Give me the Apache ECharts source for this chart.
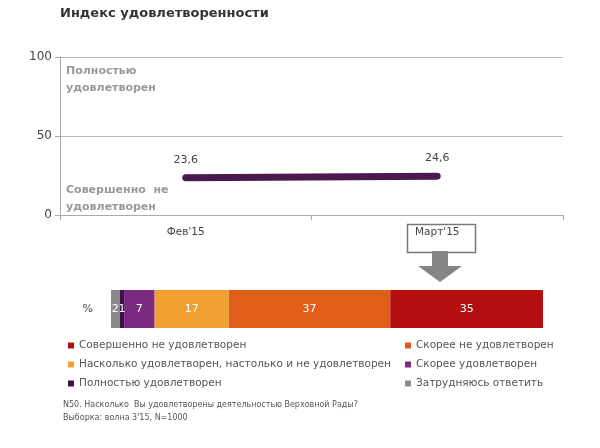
<!DOCTYPE html>
<html><head><meta charset="utf-8">
<script src="https://cdn.jsdelivr.net/npm/echarts@6/dist/echarts.min.js"></script>
<style>html,body{margin:0;padding:0;background:#fff}#c{width:600px;height:448px}</style>
</head><body><div id="c"></div>
<script>
var months = ["Фев'15", "Март'15"];
var indexValues = [23.6, 24.6];
var yTicks = [0, 50, 100];

var parts = ['Затрудняюсь ответить', 'Полностью удовлетворен', 'Скорее удовлетворен',
    'Насколько удовлетворен, настолько и не удовлетворен', 'Скорее не удовлетворен', 'Совершенно не удовлетворен'];
var partValues = [2, 1, 7, 17, 37, 35];
var partColors = ['#8a8a8a', '#3b1547', '#7b2a82', '#f0a033', '#e05e1a', '#b40f10'];

var font = 'DejaVu Sans';
var chart = echarts.init(document.getElementById('c'));

var barSeries = parts.map(function (name, i) {
    return {
        name: name, type: 'bar', stack: 's', xAxisIndex: 1, yAxisIndex: 1,
        barWidth: 38, data: [partValues[i]],
        itemStyle: { color: partColors[i] },
        label: { show: true, position: 'inside', color: '#fff', fontSize: 11, fontFamily: font,
            formatter: function (p) { return p.value; } }
    };
});

// legend layout: two columns, three rows -> [part index, left, row]
var legendPos = [
    [5, 63, 0], [3, 63, 1], [1, 63, 2],
    [4, 400, 0], [2, 400, 1], [0, 400, 2]
];
var legends = legendPos.map(function (lp) {
    return {
        data: [parts[lp[0]]], left: lp[1], top: 335 + lp[2] * 19,
        icon: 'rect', itemWidth: 6, itemHeight: 6, itemGap: 4,
        textStyle: { color: '#555', fontSize: 10.5, fontFamily: font }, selectedMode: false
    };
});

chart.setOption({
    animation: false,
    textStyle: { fontFamily: font },
    title: { text: 'Индекс удовлетворенности', left: 55, top: 2,
        textStyle: { fontSize: 13, fontWeight: 'bold', color: '#333', fontFamily: font } },
    legend: legends,
    grid: [
        { left: 60, right: 37, top: 57, height: 158 },
        { left: 111, right: 57, top: 290, height: 38 }
    ],
    xAxis: [
        { type: 'category', data: months, gridIndex: 0, boundaryGap: true,
          axisLine: { lineStyle: { color: '#aaa' } }, axisTick: { show: true, lineStyle: { color: '#aaa' } },
          axisLabel: { color: '#444', fontSize: 10.5, margin: 12 } },
        { type: 'value', gridIndex: 1, min: 0, max: 99, show: false }
    ],
    yAxis: [
        { type: 'value', gridIndex: 0, min: 0, max: 100, interval: 50,
          axisLine: { show: true, lineStyle: { color: '#aaa' } }, axisTick: { show: true, lineStyle: { color: '#aaa' } },
          splitLine: { lineStyle: { color: '#bbb' } },
          axisLabel: { color: '#444', fontSize: 12,
            formatter: function (v) { return yTicks.indexOf(v) >= 0 ? v : ''; } } },
        { type: 'category', gridIndex: 1, data: ['%'],
          axisLine: { show: false }, axisTick: { show: false },
          axisLabel: { color: '#444', fontSize: 11, margin: 18 } }
    ],
    series: [{
        type: 'line', data: indexValues, xAxisIndex: 0, yAxisIndex: 0,
        symbol: 'circle', symbolSize: 1, showSymbol: true,
        itemStyle: { color: '#4a1a4f' },
        lineStyle: { color: '#4a1a4f', width: 7, cap: 'round' },
        label: { show: true, position: 'top', distance: 12, color: '#444', fontSize: 11,
            formatter: function (p) { return String(p.value).replace('.', ','); } }
    }].concat(barSeries),
    graphic: [
        { type: 'text', left: 66, top: 63, style: { text: 'Полностью\nудовлетворен', fill: '#999',
            font: 'bold 11px DejaVu Sans', lineHeight: 17 } },
        { type: 'text', left: 66, top: 182, style: { text: 'Совершенно  не\nудовлетворен', fill: '#999',
            font: 'bold 11px DejaVu Sans', lineHeight: 17 } },
        { type: 'rect', left: 405, top: 222, shape: { width: 68, height: 28 },
          style: { fill: 'none', stroke: '#777', lineWidth: 1.5 } },
        { type: 'polygon', shape: { points: [[432, 251], [448, 251], [448, 266], [462, 266], [440, 282], [418, 266], [432, 266]] },
          style: { fill: '#858585' } },
        { type: 'text', left: 63, top: 398, style: { text: 'N50. Насколько  Вы удовлетворены деятельностью Верховной Рады?\nВыборка: волна 3\'15, N=1000',
            fill: '#555', font: '8px DejaVu Sans', lineHeight: 13 } }
    ]
});
</script></body></html>
